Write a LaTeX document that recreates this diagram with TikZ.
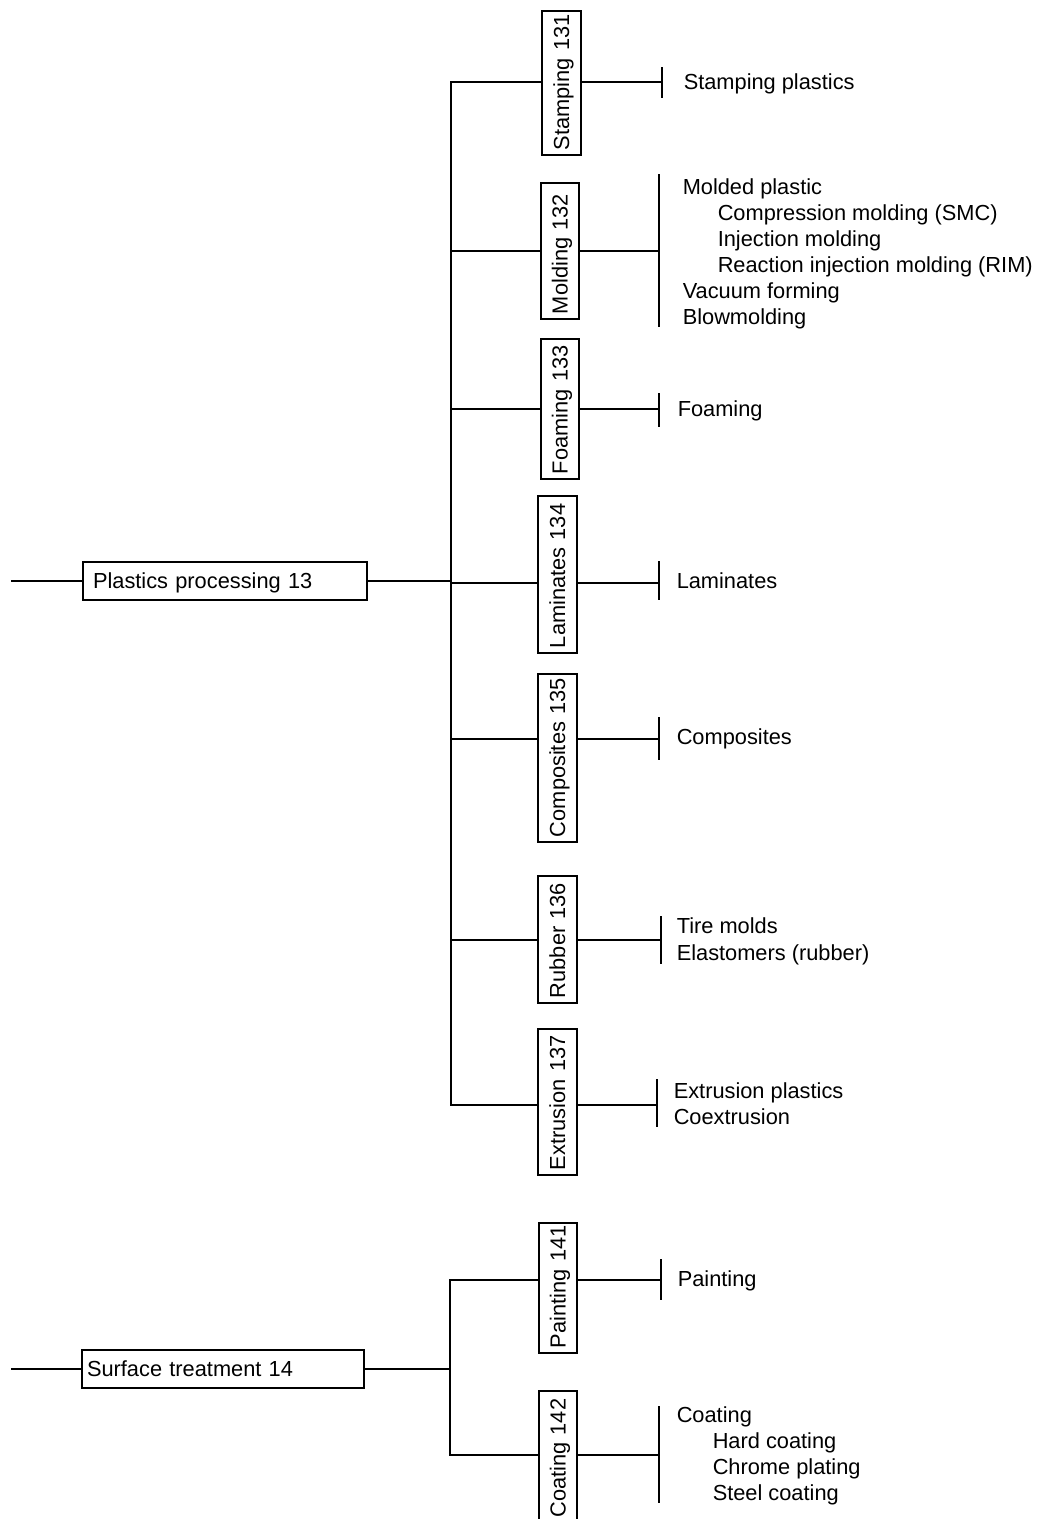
\documentclass[tikz,border=0pt]{standalone}
\usepackage{fontspec}
\setmainfont{Liberation Sans}
\begin{document}
\begin{tikzpicture}[x=1pt,y=-1pt, line width=1.5pt, line cap=rect,
  every node/.style={font=\fontsize{21.8}{26}\selectfont},
  hbox/.style={draw, minimum height=38pt, inner ysep=0pt, text height=15.4pt, text depth=0pt, align=left},
  vbox/.style={draw, rotate=90, minimum height=38pt, inner ysep=0pt, inner xsep=5pt, text height=15.4pt, text depth=0pt, align=left},
  item/.style={anchor=base west, inner sep=0pt}]
\fill[white] (0,0) rectangle (1040,1519);
\useasboundingbox (0,0) rectangle (1040,1519);

% main boxes
\node[hbox, text width=264pt, inner xsep=10pt] (p13) at (225,581) {Plastics processing 13};
\node[hbox, text width=272pt, inner xsep=5pt] (s14) at (223,1369) {Surface treatment 14};

% vertical boxes
\node[vbox, minimum height=39pt, text width=134pt] (s131) at (561.5,83) {Stamping~131};
\node[vbox, text width=126pt] (s132) at (560,251) {Molding~132};
\node[vbox, text width=130pt] (s133) at (560,409) {Foaming~133};
\node[vbox, minimum height=39pt, text width=147pt] (s134) at (557.5,574.5) {Laminates~134};
\node[vbox, minimum height=39pt, text width=158pt] (s135) at (557.5,758) {Composites~135};
\node[vbox, minimum height=39pt, text width=117pt] (s136) at (557.5,939.5) {Rubber~136};
\node[vbox, minimum height=39pt, text width=136pt] (s137) at (557.5,1102) {Extrusion~137};
\node[vbox, text width=120pt] (s141) at (558,1288) {Painting~141};
\node[vbox, text width=119pt, minimum width=134pt] (s142) at (558,1458) {Coating~142};

% feed lines into main boxes
\coordinate (l13) at (12,581);
\coordinate (j13) at (451,581);
\draw (l13) -- (p13.west);
\draw (p13.east) -- (j13);
\coordinate (l14) at (12,1369);
\coordinate (j14) at (450,1369);
\draw (l14) -- (s14.west);
\draw (s14.east) -- (j14);

% buses
\coordinate (busTop1) at (451,82);
\coordinate (busBot1) at (451,1105);
\draw (busTop1) -- (busBot1);
\coordinate (busTop2) at (450,1280);
\coordinate (busBot2) at (450,1455);
\draw (busTop2) -- (busBot2);

% branches
\foreach \n/\bx/\y/\bxx/\t/\b in {131/451/82/662/68/97, 132/451/251/659/175/326,
  133/451/409/659/394/426, 134/451/583/659/562/599, 135/451/739/659/718/759,
  136/451/940/661/917/963, 137/451/1105/657/1080/1126,
  141/450/1280/661/1260/1299, 142/450/1455/659/1407/1502} {
  \coordinate (bus\n) at (\bx,\y);
  \coordinate (bar\n) at (\bxx,\y);
  \coordinate (bart\n) at (\bxx,\t);
  \coordinate (barb\n) at (\bxx,\b);
  \draw (bus\n) -- (s\n.north |- bus\n);
  \draw (s\n.south |- bar\n) -- (bar\n);
  \draw (bart\n) -- (barb\n);
}

% item texts
\node[item] (t131) at (683,89) {Stamping plastics};
\node[item] (t132a) at (682,194) {Molded plastic};
\node[item] (t132b) at (717,220) {Compression molding (SMC)};
\node[item] (t132c) at (717,246) {Injection molding};
\node[item] (t132d) at (717,272) {Reaction injection molding (RIM)};
\node[item] (t132e) at (682,298) {Vacuum forming};
\node[item] (t132f) at (682,324) {Blowmolding};
\node[item] (t133) at (677,416) {Foaming};
\node[item] (t134) at (676,588) {Laminates};
\node[item] (t135) at (676,744) {Composites};
\node[item] (t136a) at (676,933) {Tire molds};
\node[item] (t136b) at (676,960) {Elastomers (rubber)};
\node[item] (t137a) at (673,1098) {Extrusion plastics};
\node[item] (t137b) at (673,1124) {Coextrusion};
\node[item] (t141) at (677,1286) {Painting};
\node[item] (t142a) at (676,1422) {Coating};
\node[item] (t142b) at (712,1448) {Hard coating};
\node[item] (t142c) at (712,1474) {Chrome plating};
\node[item] (t142d) at (712,1500) {Steel coating};
\end{tikzpicture}
\end{document}
